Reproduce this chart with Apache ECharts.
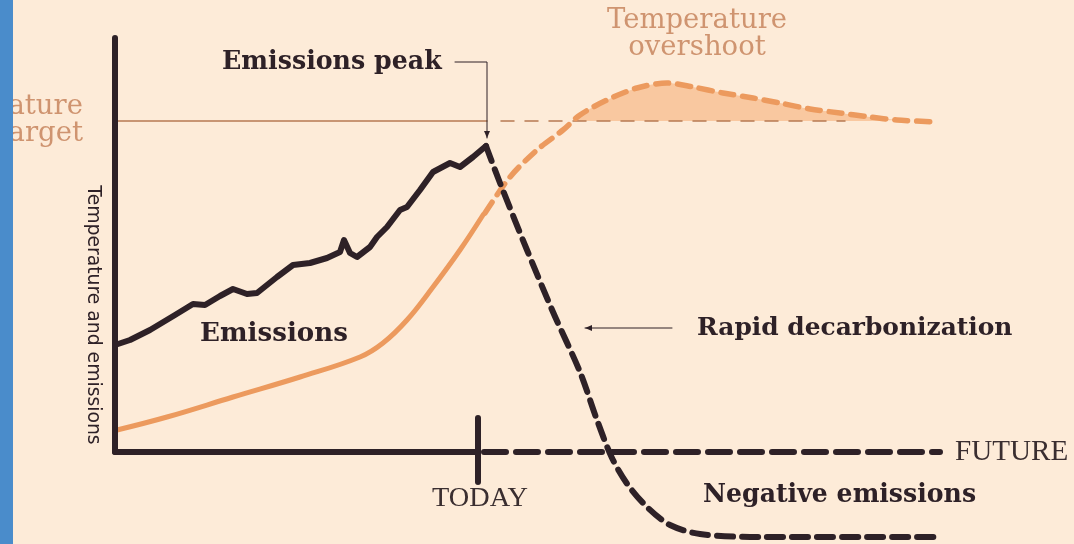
<!DOCTYPE html>
<html><head><meta charset="utf-8">
<script src="https://cdn.jsdelivr.net/npm/echarts@6/dist/echarts.min.js"></script>
<style>html,body{margin:0;padding:0;background:#fdebd8;}#c{width:1074px;height:544px;}</style>
</head><body><div id="c"></div>
<script>
// ---- data (abstract units: x = time, y = level) ----
const emissionsHistory = [[0,107],[15,112],[35,122],[60,137],[78,148],[90,147],[105,156],[118,163],[132,158],[142,159],[162,175],[178,187],[195,189],[212,194],[225,200],[229,212],[235,199],[242,195],[255,205],[262,215],[272,225],[285,242],[292,245],[305,262],[318,280],[335,289],[345,285],[358,295],[371,306]];
const emissionsFuture = [[371,306],[385,269],[412,202],[438,140],[465,80],[482,32],[497,-6],[513,-33],[533,-56],[555,-73],[585,-82],[645,-85],[822,-85]];
const temperatureHistory = [[2,22],[52,35],[118,55],[185,75],[245,95],[268,109],[292,132],[318,165],[345,202],[368,237]];
const temperatureFuture = [[370,239],[395,275],[422,302],[448,322],[465,337],[492,352],[522,364],[552,369],[578,365],[608,359],[638,354],[665,349],[695,343],[725,339],[755,335],[782,332],[823,330]];
const targetLevel = 331;
const todayX = 363;
const axisTop = 414;
const futureEnd = 825;
const peakArrow = [[340,390],[372,390],[372,314]];
const decarbArrow = [[557,124],[470,124]];
const labels = {peak:'Emissions peak', emissions:'Emissions', decarb:'Rapid decarbonization', negative:'Negative emissions', future:'FUTURE', today:'TODAY', overshoot1:'Temperature', overshoot2:'overshoot', target1:'Temperature', target2:'target', yName:'Temperature and emissions'};

// ---- derived ----
const overshootFill = temperatureFuture.filter(p => p[0] >= 460 && p[0] <= 790).map(p => [p[0], Math.max(p[1], targetLevel)]);
overshootFill.unshift([462, targetLevel]);

const DARK = '#2e2127', ORANGE = '#ec9a5e', TAN = '#cf9470';
const ctx = document.createElement('canvas').getContext('2d');
function fit(text, family, weight, w){ ctx.font = weight + ' 100px ' + family; return Math.round(1000*w/ctx.measureText(text).width)/10; }
const SERIF = '"DejaVu Serif"', SERIF2 = '"Liberation Serif"';

const chart = echarts.init(document.getElementById('c'), null, {renderer:'canvas'});
function line(data, color, width, type, z, smooth){
  return {type:'line', data, showSymbol:false, symbol:'none', smooth:smooth||false, clip:false, z:z||2, animation:false,
    lineStyle:{color, width, type:type||'solid', cap:'round', join:'round'}};
}
const series = [
  {type:'line', data: overshootFill, showSymbol:false, symbol:'none', smooth:0.3, clip:false, z:1, animation:false,
   lineStyle:{width:0}, areaStyle:{color:'#f9c8a0', origin: targetLevel, opacity:1}},
  line([[-24,targetLevel],[372,targetLevel]], '#b67a52', 1.5, 'solid', 1),
  line([[386,targetLevel],[730,targetLevel]], '#b67a52', 1.5, [13,11], 1),
  line(temperatureHistory, ORANGE, 5, 'solid', 3, 0.4),
  line(temperatureFuture, ORANGE, 5.5, [13,9], 3, 0.3),
  line(emissionsHistory, DARK, 6, 'solid', 4),
  line(emissionsFuture, DARK, 6, [16,9], 4, 0.3),
  line([[0,0],[0,axisTop]], DARK, 6, 'solid', 5),
  line([[0,0],[todayX,0]], DARK, 6, 'solid', 5),
  line([[todayX+6,0],[futureEnd,0]], DARK, 6, [22,10], 5),
  line([[todayX,34],[todayX,-30]], DARK, 6, 'solid', 5),
  line(peakArrow, DARK, 1, 'solid', 6),
  line(decarbArrow, DARK, 1, 'solid', 6)
];

const fs = {
  peak: fit(labels.peak, SERIF, 'bold', 220),
  emis: fit(labels.emissions, SERIF, 'bold', 148),
  decarb: fit(labels.decarb, SERIF, 'bold', 315),
  neg: fit(labels.negative, SERIF, 'bold', 273),
  future: fit(labels.future, SERIF2, 'normal', 113),
  today: fit(labels.today, SERIF2, 'normal', 96),
  over: fit(labels.overshoot1, SERIF, 'normal', 180),
  yname: fit(labels.yName, '"DejaVu Sans"', 'normal', 260)
};
function txt(text, x, y, size, opts){
  return {type:'text', x, y, z:10, style:Object.assign({text, fill:DARK, fontSize:size, fontFamily:SERIF, fontWeight:'normal', textAlign:'left', textVerticalAlign:'middle'}, opts||{})};
}
const graphic = [
  txt(labels.peak, 222, 62, fs.peak, {fontWeight:'bold'}),
  txt(labels.emissions, 274, 334, fs.emis, {fontWeight:'bold', textAlign:'center'}),
  txt(labels.decarb, 697, 329, fs.decarb, {fontWeight:'bold'}),
  txt(labels.negative, 703, 495, fs.neg, {fontWeight:'bold'}),
  txt(labels.future, 955, 452, fs.future, {fontFamily:SERIF2, fill:'#3a2e30'}),
  txt(labels.today, 480, 499, fs.today, {fontFamily:SERIF2, textAlign:'center', fill:'#3a2e30'}),
  txt(labels.overshoot1, 697, 21, fs.over, {textAlign:'center', fill:TAN}),
  txt(labels.overshoot2, 697, 48, fs.over, {textAlign:'center', fill:TAN}),
  txt(labels.target1, 83, 107, fs.over, {textAlign:'right', fill:TAN}),
  txt(labels.target2, 83, 134, fs.over, {textAlign:'right', fill:TAN}),
  {type:'text', x:93, y:315, rotation:-Math.PI/2, z:10, style:{text:labels.yName, fill:'#2e2127', fontSize:fs.yname, fontFamily:'"DejaVu Sans"', textAlign:'center', textVerticalAlign:'middle'}},
  {type:'rect', z:20, shape:{x:0, y:0, width:13, height:544}, style:{fill:'#4a8ccb'}}
];

chart.setOption({
  backgroundColor:'#fdebd8',
  animation:false,
  grid:{left:115, right:0, top:38, bottom:2},
  xAxis:{type:'value', min:0, max:959, show:false},
  yAxis:{type:'value', min:-90, max:414, show:false},
  series, graphic
});

// arrowheads at the end of each annotation path
function arrowHead(path){
  const a = chart.convertToPixel({gridIndex:0}, path[path.length-2]);
  const b = chart.convertToPixel({gridIndex:0}, path[path.length-1]);
  const ang = Math.atan2(b[1]-a[1], b[0]-a[0]);
  const L = 7, W = 3;
  const p1 = [b[0]-L*Math.cos(ang)+W*Math.sin(ang), b[1]-L*Math.sin(ang)-W*Math.cos(ang)];
  const p2 = [b[0]-L*Math.cos(ang)-W*Math.sin(ang), b[1]-L*Math.sin(ang)+W*Math.cos(ang)];
  return {type:'polygon', z:10, shape:{points:[b,p1,p2]}, style:{fill:DARK}};
}
chart.setOption({graphic: graphic.concat([arrowHead(peakArrow), arrowHead(decarbArrow)])});
</script></body></html>
